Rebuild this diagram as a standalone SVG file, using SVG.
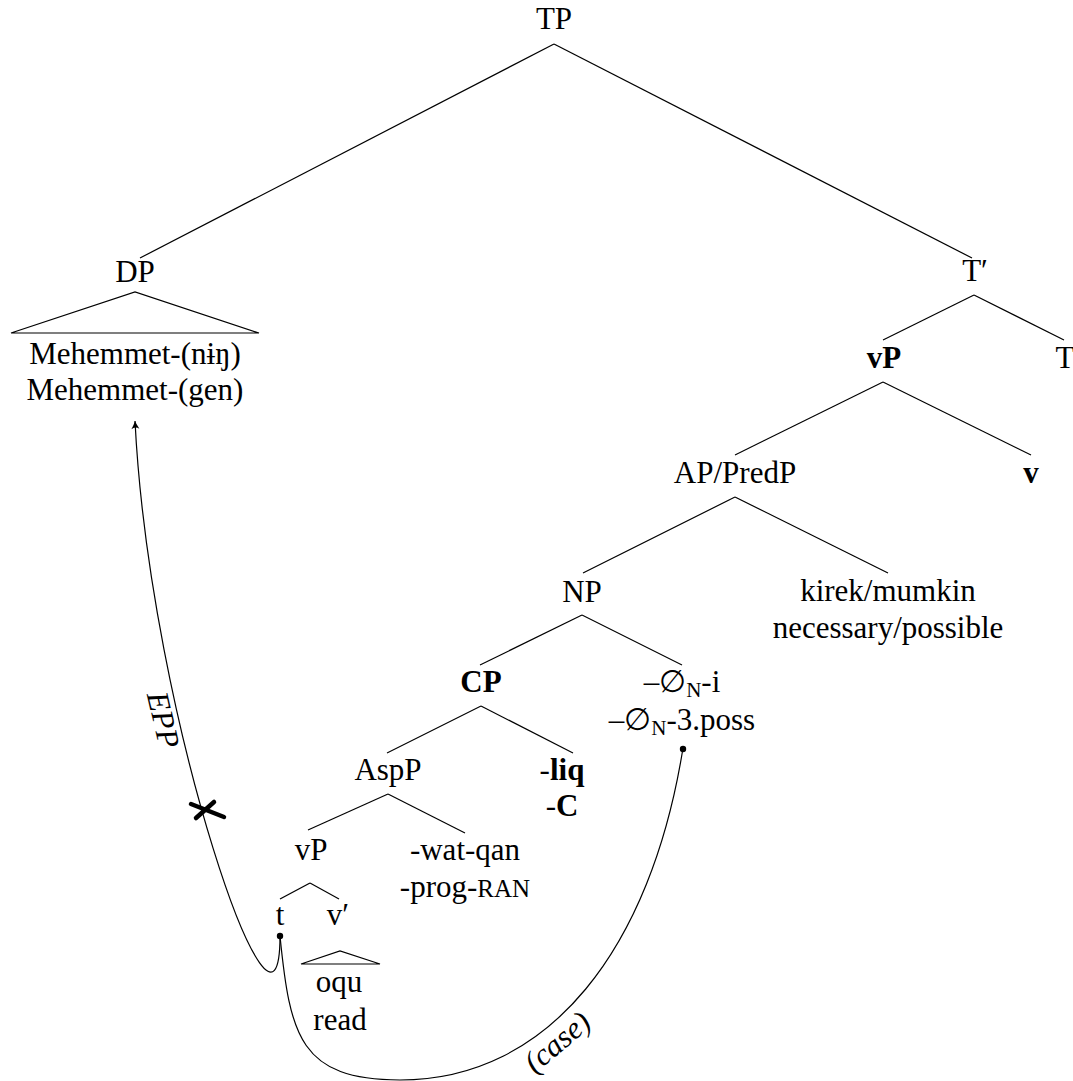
<svg xmlns="http://www.w3.org/2000/svg" width="1073" height="1081" viewBox="0 0 1073 1081">
<style>
.n{font-family:"Liberation Serif","DejaVu Serif",serif;font-size:31px;text-anchor:middle;fill:#000}
.b{font-weight:bold}
.i{font-style:italic}
.sub{font-size:21px}
.sc{font-size:25px}
.e{stroke:#000;stroke-width:1.2;fill:none}
.dot{fill:#000}
</style>
<defs>
<marker id="arr" markerWidth="12" markerHeight="10" refX="9" refY="5" orient="auto" markerUnits="userSpaceOnUse">
<path d="M1,1 Q6,4 9,5 Q6,6 1,9 Q4,5 1,1 Z" fill="#000"/>
</marker>
</defs>
<rect width="1073" height="1081" fill="#fff"/>
<g id="connectors">
<line class="e" x1="554" y1="44" x2="140" y2="258"/>
<line class="e" x1="554" y1="44" x2="972" y2="258"/>
<path class="e" d="M11,333 L135,292 L259,333 Z"/>
<line class="e" x1="974" y1="295" x2="883" y2="340"/>
<line class="e" x1="974" y1="295" x2="1064" y2="340"/>
<line class="e" x1="883" y1="382" x2="735" y2="455"/>
<line class="e" x1="883" y1="382" x2="1031" y2="455"/>
<line class="e" x1="735" y1="497" x2="583" y2="573"/>
<line class="e" x1="735" y1="497" x2="888" y2="573"/>
<line class="e" x1="582" y1="615" x2="480" y2="665"/>
<line class="e" x1="582" y1="615" x2="682" y2="665"/>
<line class="e" x1="481" y1="706" x2="387" y2="753"/>
<line class="e" x1="481" y1="706" x2="573" y2="753"/>
<line class="e" x1="388" y1="794" x2="308" y2="830"/>
<line class="e" x1="388" y1="794" x2="465" y2="833"/>
<line class="e" x1="310" y1="883" x2="280" y2="899"/>
<line class="e" x1="310" y1="883" x2="339" y2="899"/>
<path class="e" d="M301,964 L340,951 L380,964 Z"/>
<path class="e" d="M280,936 C280,1090 150,720 135,421" marker-end="url(#arr)"/>
<path class="e" d="M683,748 C651,948 550,1080 400,1080 C300,1080 290,1036 280,936"/>
<circle class="dot" cx="280" cy="936" r="3.2"/>
<circle class="dot" cx="683" cy="749" r="3.2"/>
<path d="M191,804 L224,817 M196,818 L214,802" stroke="#000" stroke-width="4.5" stroke-linecap="round" fill="none"/>
<text class="n i" transform="translate(163,720) rotate(77)" x="0" y="10">EPP</text>
<text class="n i" transform="translate(558,1043) rotate(-40)" x="0" y="9">(case)</text>
</g>
<g id="TP"><text class="n" x="554" y="29">TP</text></g>
<g id="DP"><text class="n" x="135" y="282">DP</text></g>
<g id="Mehemmet"><text class="n" x="135" y="364">Mehemmet-(nɨŋ)</text><text class="n" x="135" y="400">Mehemmet-(gen)</text></g>
<g id="Tbar"><text class="n" x="975" y="281">T′</text></g>
<g id="vP-top"><text class="n b" x="884" y="368">vP</text></g>
<g id="T"><text class="n" x="1065" y="368">T</text></g>
<g id="APPredP"><text class="n" x="735" y="483">AP/PredP</text></g>
<g id="v"><text class="n b" x="1031" y="483">v</text></g>
<g id="NP"><text class="n" x="582" y="602">NP</text></g>
<g id="kirek"><text class="n" x="888" y="601">kirek/mumkin</text><text class="n" x="888" y="638">necessary/possible</text></g>
<g id="CP"><text class="n b" x="481" y="692">CP</text></g>
<g id="N-i"><text class="n" x="682" y="692">–∅<tspan class="sub" dy="5">N</tspan><tspan dy="-5">-i</tspan></text><text class="n" x="682" y="730">–∅<tspan class="sub" dy="5">N</tspan><tspan dy="-5">-3.poss</tspan></text></g>
<g id="AspP"><text class="n" x="388" y="780">AspP</text></g>
<g id="liq"><text class="n" x="562" y="780">-<tspan class="b">liq</tspan></text><text class="n" x="562" y="816">-<tspan class="b">C</tspan></text></g>
<g id="vP-low"><text class="n" x="311" y="860">vP</text></g>
<g id="watqan"><text class="n" x="465" y="860">-wat-qan</text><text class="n" x="465" y="897">-prog-<tspan class="sc">RAN</tspan></text></g>
<g id="t"><text class="n" x="280" y="925">t</text></g>
<g id="vbar"><text class="n" x="338" y="925">v′</text></g>
<g id="oqu"><text class="n" x="339" y="992">oqu</text><text class="n" x="340" y="1030">read</text></g>
</svg>
